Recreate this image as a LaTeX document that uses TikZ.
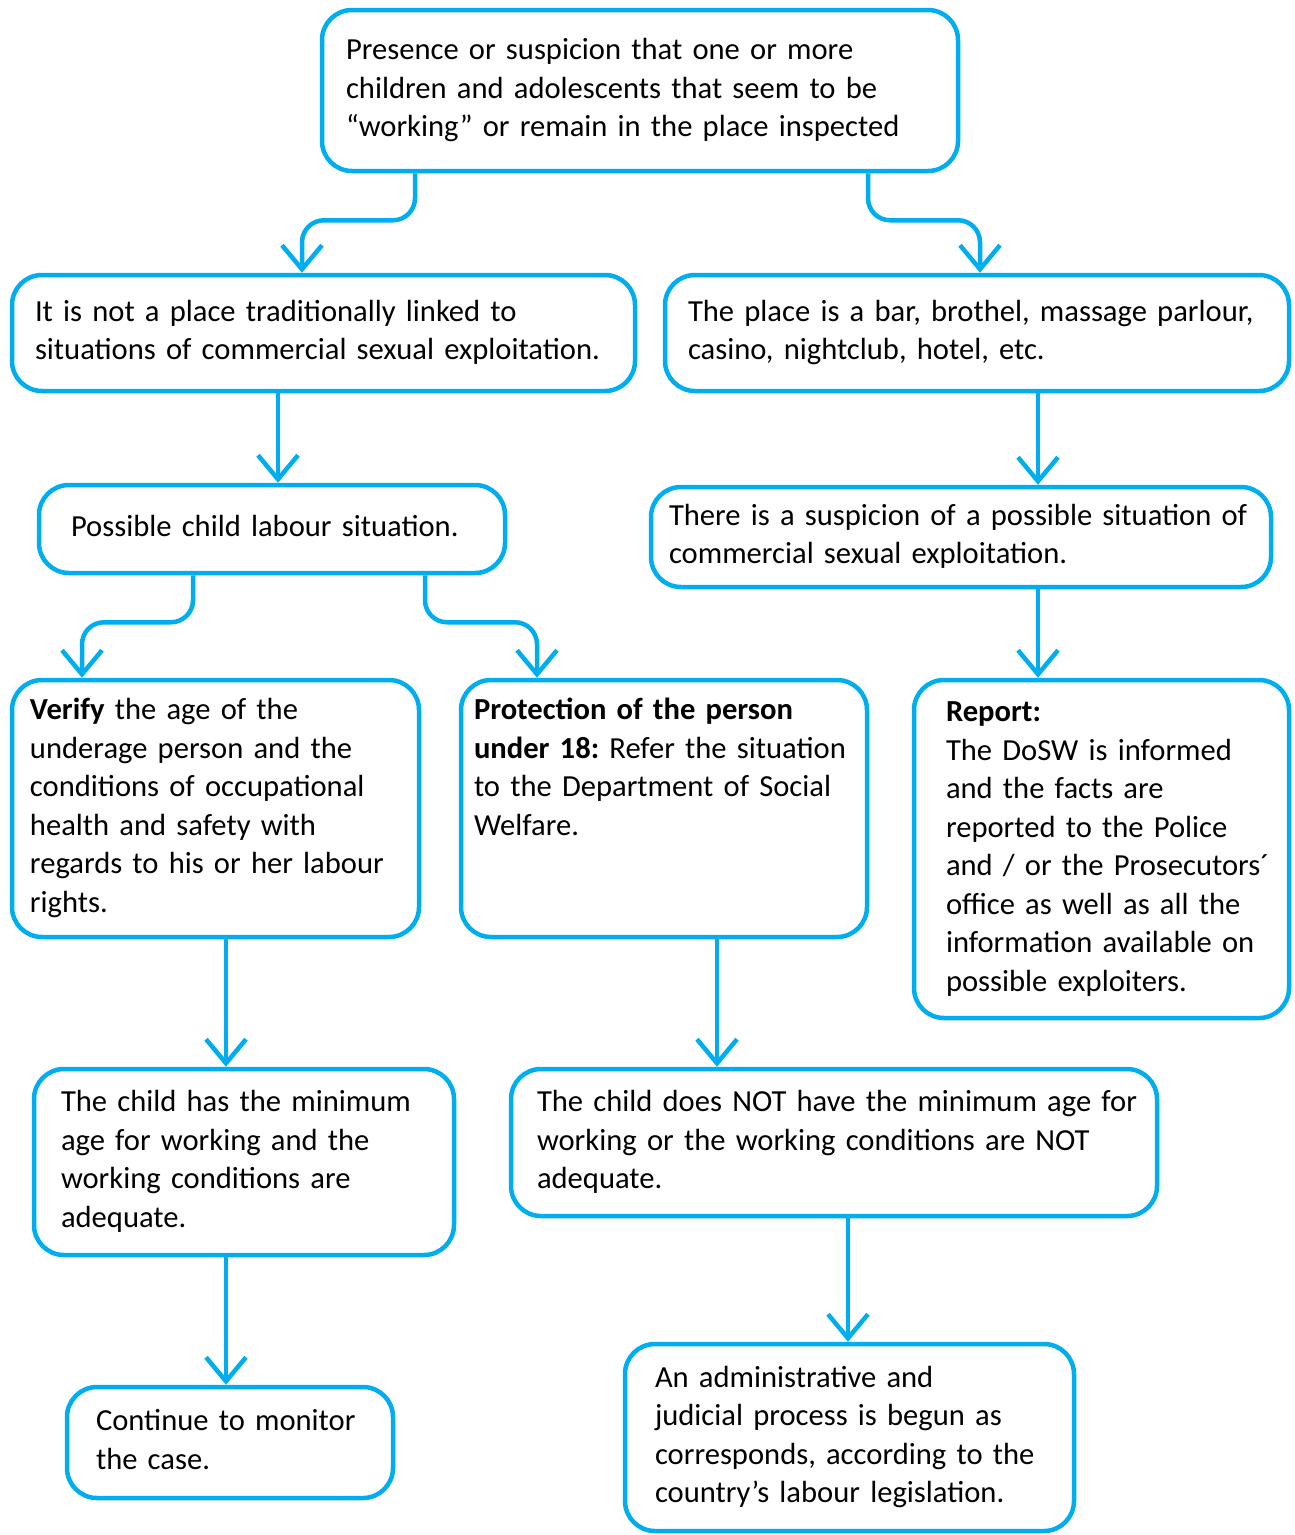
\documentclass[tikz,border=0pt]{standalone}
\usepackage{fontspec}
\setmainfont{Carlito}
\usetikzlibrary{arrows.meta}

\definecolor{flowblue}{RGB}{0,174,239}
\newcommand{\boxlines}[1]{\begin{tabular}{@{}l@{}}#1\end{tabular}}

\begin{document}
\frenchspacing
\begin{tikzpicture}[x=1pt,y=-1pt,
    box/.style={draw=flowblue, line width=4.5pt, rounded corners=30pt, inner sep=0pt,
        align=left, font=\fontsize{30.6}{38.5}\selectfont},
    conn/.style={draw=flowblue, line width=4.5pt, rounded corners=22pt,
        -{Straight Barb[length=24pt,width=40pt]}}]
        \useasboundingbox (0,0) rectangle (1295,1535);

        % boxes
        \node[box, minimum width=636pt, minimum height=161pt, text width=588pt] (start) at (640,90.5)
            {\boxlines{Presence or suspicion that one or more\\ children and adolescents that seem to be\\ “working” or remain in the place inspected}};
        \node[box, minimum width=623pt, minimum height=116pt, text width=577pt] (notplace) at (323.5,333)
            {\boxlines{It is not a place traditionally linked to\\ situations of commercial sexual exploitation.}};
        \node[box, minimum width=624pt, minimum height=116pt, text width=578pt] (place) at (977,333)
            {\boxlines{The place is a bar, brothel, massage parlour,\\ casino, nightclub, hotel, etc.}};
        \node[box, minimum width=466pt, minimum height=88pt, text width=402pt] (labour) at (272,529)
            {\boxlines{Possible child labour situation.}};
        \node[box, minimum width=620pt, minimum height=100pt, text width=584pt] (suspicion) at (961,537)
            {\boxlines{There is a suspicion of a possible situation of\\ commercial sexual exploitation.}};
        \node[box, minimum width=407pt, minimum height=257pt, text width=371pt] (verify) at (215.5,808.5)
            {\boxlines{\textbf{Verify} the age of the\\ underage person and the\\ conditions of occupational\\ health and safety with\\ regards to his or her labour\\ rights.}};
        \node[box, minimum width=406pt, minimum height=257pt, text width=380pt] (protect) at (664,808.5)
            {\boxlines{\textbf{Protection of the person}\\ \textbf{under 18:} Refer the situation\\ to the Department of Social\\ Welfare.\\ \mbox{}\\ \mbox{}}};
        \node[box, minimum width=375pt, minimum height=338pt, text width=311pt] (report) at (1101.5,849)
            {\boxlines{\textbf{Report:}\\ The DoSW is informed\\ and the facts are\\ reported to the Police\\ and / or the Prosecutors´\\ office as well as all the\\ information available on\\ possible exploiters.}};
        \node[box, minimum width=420pt, minimum height=186pt, text width=366pt] (minage) at (244,1162)
            {\boxlines{The child has the minimum\\ age for working and the\\ working conditions are\\ adequate.}};
        \node[box, minimum width=646pt, minimum height=147pt, text width=594pt] (nominage) at (834,1142.5)
            {\boxlines{The child does NOT have the minimum age for\\ working or the working conditions are NOT\\ adequate.}};
        \node[box, minimum width=326pt, minimum height=111pt, text width=268pt] (monitor) at (230,1442.5)
            {\boxlines{Continue to monitor\\ the case.}};
        \node[box, minimum width=449pt, minimum height=187pt, text width=389pt] (process) at (849.5,1437.5)
            {\boxlines{An administrative and\\ judicial process is begun as\\ corresponds, according to the\\ country’s labour legislation.}};

        % connectors
        \draw[conn] ([xshift=-225pt]start.south) -- ++(0,47) -| ([xshift=-21.5pt]notplace.north);
        \draw[conn] ([xshift=228pt]start.south) -- ++(0,47) -| ([xshift=3pt]place.north);
        \draw[conn] ([xshift=-45.5pt]notplace.south) -- ([xshift=-45.5pt]notplace.south |- labour.north);
        \draw[conn] ([xshift=61pt]place.south) -- ([xshift=61pt]place.south |- suspicion.north);
        \draw[conn] ([xshift=-79pt]labour.south) -- ++(0,47) -| ([xshift=-133.5pt]verify.north);
        \draw[conn] ([xshift=153pt]labour.south) -- ++(0,47) -| ([xshift=-127pt]protect.north);
        \draw[conn] ([xshift=77pt]suspicion.south) -- ([xshift=77pt]suspicion.south |- report.north);
        \draw[conn] ([xshift=10.5pt]verify.south) -- ([xshift=10.5pt]verify.south |- minage.north);
        \draw[conn] ([xshift=53pt]protect.south) -- ([xshift=53pt]protect.south |- nominage.north);
        \draw[conn] ([xshift=-18pt]minage.south) -- ([xshift=-18pt]minage.south |- monitor.north);
        \draw[conn] ([xshift=14pt]nominage.south) -- ([xshift=14pt]nominage.south |- process.north);
    \end{tikzpicture}
\end{document}
